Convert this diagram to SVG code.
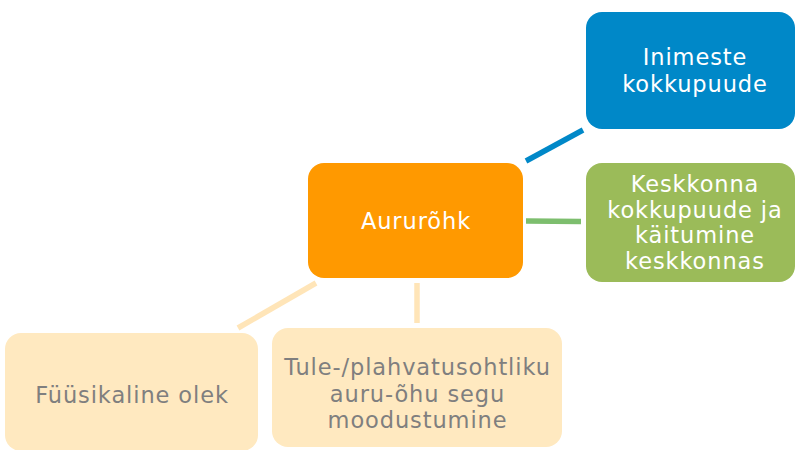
<svg xmlns="http://www.w3.org/2000/svg" width="796" height="450" viewBox="0 0 796 450">
  <style>
    .box { stroke: none; }
    .lbl { font-family: "DejaVu Sans", Verdana, sans-serif; font-size: 22.5px; letter-spacing: 0.9px; text-anchor: middle; }
    .light { fill: #ffffff; }
    .dark { fill: #7f7f7f; }
    .conn { fill: none; stroke-width: 5.5; stroke-linecap: butt; }
  </style>
  <rect width="796" height="450" fill="#ffffff"/>

  <!-- connectors -->
  <g id="connectors">
    <line class="conn" x1="526" y1="161" x2="583" y2="130" stroke="#0088c8"/>
    <line class="conn" x1="526" y1="221" x2="581" y2="221.5" stroke="#7dbe6e"/>
    <line class="conn" x1="316" y1="283" x2="238" y2="328" stroke="#ffe5b8"/>
    <line class="conn" x1="417" y1="283" x2="417" y2="323" stroke="#ffe5b8"/>
  </g>

  <g id="node-center">
    <rect class="box" x="308" y="163" width="215" height="115" rx="16" fill="#ff9900"/>
    <text class="lbl light" x="416" y="229">Aururõhk</text>
  </g>

  <g id="node-people">
    <rect class="box" x="586" y="12" width="209" height="117" rx="16" fill="#0088c8"/>
    <text class="lbl light" x="695" y="65">Inimeste</text>
    <text class="lbl light" x="695" y="91.5">kokkupuude</text>
  </g>

  <g id="node-environment">
    <rect class="box" x="586" y="163" width="209" height="119" rx="16" fill="#9bbb59"/>
    <text class="lbl light" x="695" y="192">Keskkonna</text>
    <text class="lbl light" x="695" y="217.5">kokkupuude ja</text>
    <text class="lbl light" x="695" y="243">käitumine</text>
    <text class="lbl light" x="695" y="268.5">keskkonnas</text>
  </g>

  <g id="node-state">
    <rect class="box" x="5" y="333" width="253" height="118" rx="16" fill="#ffe9c0"/>
    <text class="lbl dark" x="132" y="403">Füüsikaline olek</text>
  </g>

  <g id="node-mixture">
    <rect class="box" x="272" y="328" width="290" height="119" rx="16" fill="#ffe9c0"/>
    <text class="lbl dark" x="417.5" y="375">Tule-/plahvatusohtliku</text>
    <text class="lbl dark" x="417.5" y="401.5">auru-õhu segu</text>
    <text class="lbl dark" x="417.5" y="427.5">moodustumine</text>
  </g>
</svg>
